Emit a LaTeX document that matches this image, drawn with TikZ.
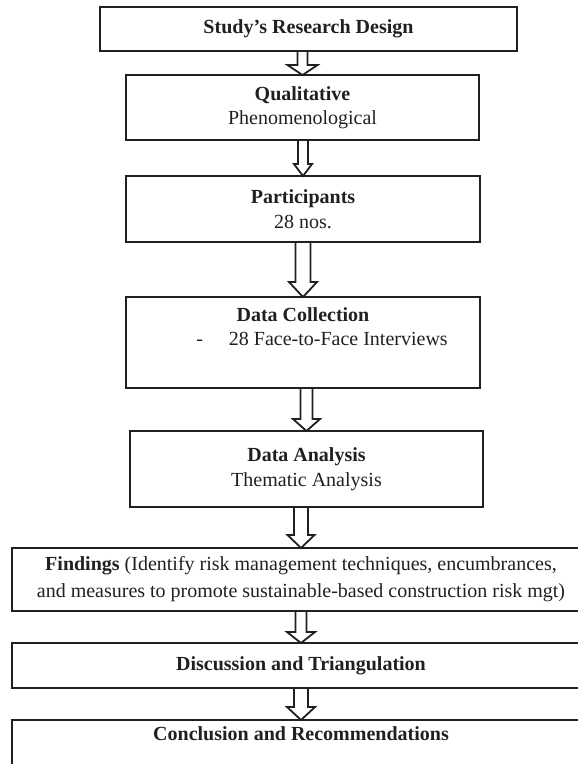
\documentclass[tikz,border=0pt]{standalone}
\usepackage{fontspec}
\setmainfont{Liberation Serif}
\usepackage{tikz}
\usetikzlibrary{positioning,calc}
\usepackage{xcolor}
\definecolor{DesignInk}{RGB}{35,31,32}

\newcommand{\fatarrow}[5]{%
\draw[fat] let \p1=(#1.south), \p2=(#2.north) in
(\x2-#3/2,\y1) -- (\x2-#3/2,\y2+#5) -- (\x2-#4/2,\y2+#5) -- (\x2,\y2)
-- (\x2+#4/2,\y2+#5) -- (\x2+#3/2,\y2+#5) -- (\x2+#3/2,\y1);}

\begin{document}
\begin{tikzpicture}[
x=1pt,y=1pt,
node distance=24pt,
box/.style={
rectangle,
draw=DesignInk,
line width=2.6pt,
inner sep=0pt,
outer sep=0pt,
align=center,
text=DesignInk,
font=\fontsize{20}{24.5}\selectfont
},
fat/.style={
draw=DesignInk,
line width=1.8pt,
line join=miter
}
]
\useasboundingbox (0,0) rectangle (578,-764);

\node[box,minimum width=417pt,minimum height=44pt] (design) at (308.5,-29) {\textbf{Study’s Research Design}};
\node[box,minimum width=353pt,minimum height=65pt,below=24pt of design,xshift=-6pt] (qual) {\textbf{Qualitative}\\Phenomenological};
\node[box,minimum width=354pt,minimum height=66pt,below=36pt of qual,xshift=0.5pt] (part) {\textbf{Participants}\\28 nos.};
\node[box,minimum width=354pt,minimum height=91pt,below=55pt of part] (collect) {\textbf{Data Collection}\\\hspace*{38pt}-\hspace{26pt}28 Face-to-Face Interviews\\\strut};
\node[box,minimum width=353pt,minimum height=76pt,below=43pt of collect,xshift=3.5pt] (analysis) {\textbf{Data Analysis}\\Thematic Analysis};
\node[box,minimum width=578pt,minimum height=63pt,below=41pt of analysis,xshift=-5.5pt,font=\fontsize{20}{27}\selectfont] (findings) {\textbf{Findings} (Identify risk management techniques, encumbrances,\\and measures to promote sustainable-based construction risk mgt)};
\node[box,minimum width=578pt,minimum height=45pt,below=32pt of findings] (discuss) {\textbf{Discussion and Triangulation}};
\node[box,minimum width=578pt,minimum height=50pt,below=32pt of discuss] (concl) {\textbf{Conclusion and Recommendations}\\[-8pt]\strut};

\fatarrow{design}{qual}{10pt}{30pt}{10pt}
\fatarrow{qual}{part}{10pt}{18pt}{12pt}
\fatarrow{part}{collect}{15pt}{28pt}{15pt}
\fatarrow{collect}{analysis}{12pt}{27pt}{12pt}
\fatarrow{analysis}{findings}{14pt}{27pt}{13pt}
\fatarrow{findings}{discuss}{11pt}{28pt}{11pt}
\fatarrow{discuss}{concl}{14pt}{28pt}{13pt}

\end{tikzpicture}
\end{document}
